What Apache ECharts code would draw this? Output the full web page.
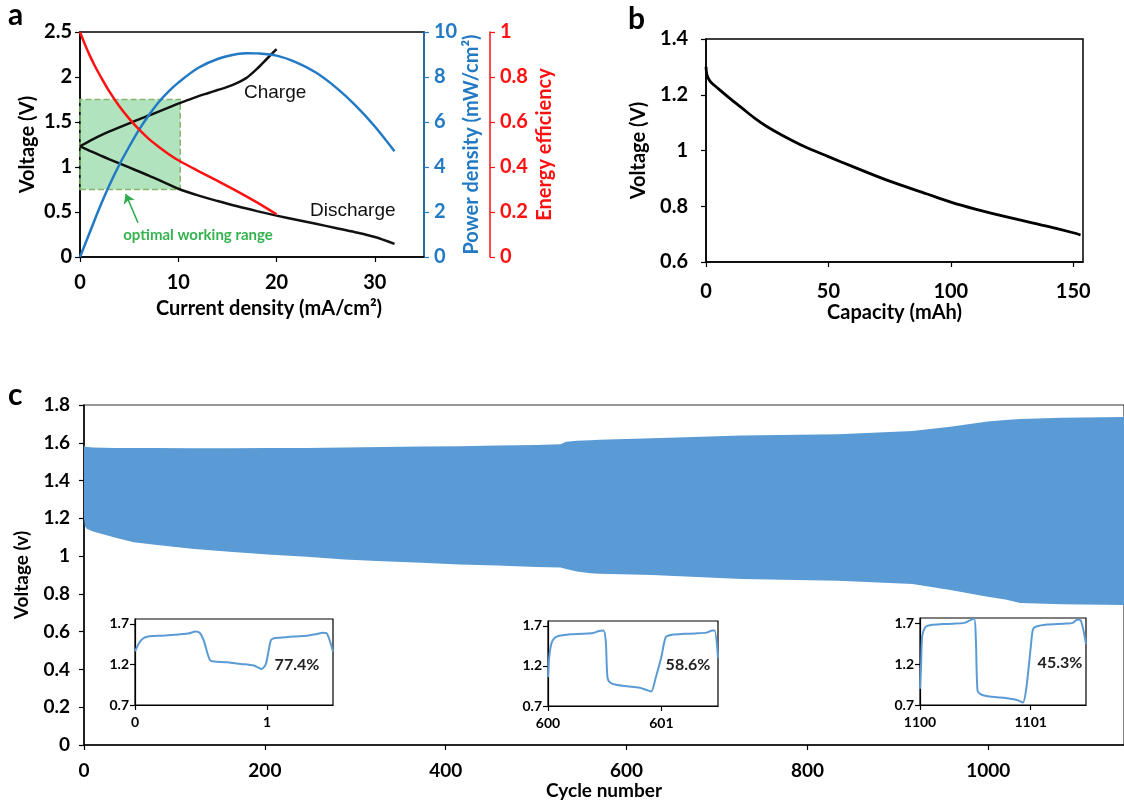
<!DOCTYPE html>
<html>
<head>
<meta charset="utf-8">
<title>Battery performance</title>
<script src="https://cdn.jsdelivr.net/npm/echarts@6.0.0/dist/echarts.min.js"></script>
<style>
  html, body { margin: 0; padding: 0; background: #fff; }
  #main { width: 1124px; height: 802px; }
</style>
</head>
<body>
<div id="main"></div>
<script>
// ---- panel a : polarisation, power and efficiency vs current density
var chargeI = [0, 1, 2, 3, 4, 5, 6, 7, 8, 9, 10, 11, 12, 13, 14, 15, 16, 17, 18, 19, 20];
var chargeV = [1.23, 1.29, 1.345, 1.395, 1.44, 1.485, 1.53, 1.572, 1.615, 1.66, 1.705, 1.745, 1.785, 1.82, 1.855, 1.89, 1.935, 1.995, 2.09, 2.2, 2.31];
var dischI = [0, 1, 2, 3, 4, 5, 6, 7, 8, 9, 10, 12, 14, 16, 18, 20, 22, 24, 26, 28, 30, 32];
var dischV = [1.23, 1.18, 1.132, 1.085, 1.04, 0.995, 0.95, 0.905, 0.857, 0.808, 0.758, 0.685, 0.622, 0.563, 0.51, 0.46, 0.414, 0.369, 0.323, 0.276, 0.222, 0.145];
var powerI = [0, 1, 2, 3, 4, 5, 6, 7, 8, 9, 10, 12, 14, 16, 17, 18, 20, 22, 24, 26, 28, 30, 32];
var powerP = [0, 1.1, 2.2, 3.2, 4.1, 4.9, 5.65, 6.3, 6.88, 7.35, 7.75, 8.4, 8.8, 9.02, 9.06, 9.05, 8.95, 8.65, 8.2, 7.55, 6.75, 5.8, 4.7];
var effI = [0, 0.5, 1, 1.5, 2, 3, 4, 5, 6, 7, 8, 9, 10, 12, 14, 16, 18, 20];
var effE = [1.0, 0.945, 0.895, 0.85, 0.81, 0.735, 0.67, 0.615, 0.567, 0.525, 0.49, 0.458, 0.43, 0.383, 0.338, 0.292, 0.243, 0.19];
var boxI = [0, 10.2];
var boxV = [0.75, 1.75];

// ---- panel b : discharge curve
var capMAh = [0, 0.3, 1, 2, 5, 10, 15, 20, 25, 30, 40, 50, 60, 75, 90, 100, 110, 125, 140, 150, 153];
var capV = [1.3, 1.275, 1.258, 1.245, 1.222, 1.185, 1.15, 1.115, 1.085, 1.06, 1.015, 0.978, 0.942, 0.89, 0.845, 0.815, 0.79, 0.757, 0.727, 0.705, 0.697];

// ---- panel c : cycling envelope
var cycleNum = [0, 1, 3, 10, 35, 55, 76, 119, 161, 203, 246, 288, 330, 373, 415, 457, 500, 527, 533, 545, 560, 570, 628, 727, 834, 916, 958, 999, 1019, 1035, 1081, 1150];
var upperV = [1.585, 1.58, 1.578, 1.575, 1.573, 1.572, 1.572, 1.571, 1.571, 1.572, 1.573, 1.575, 1.578, 1.58, 1.582, 1.585, 1.588, 1.592, 1.606, 1.611, 1.614, 1.616, 1.624, 1.638, 1.645, 1.662, 1.685, 1.712, 1.72, 1.726, 1.733, 1.736];
var lowerV = [1.2, 1.16, 1.145, 1.13, 1.097, 1.074, 1.062, 1.039, 1.023, 1.009, 0.996, 0.982, 0.973, 0.965, 0.956, 0.95, 0.942, 0.94, 0.932, 0.918, 0.909, 0.906, 0.9, 0.879, 0.87, 0.852, 0.82, 0.785, 0.77, 0.752, 0.745, 0.741];

// insets
var in1X = [0, 0.03, 0.06, 0.1, 0.2, 0.3, 0.4, 0.46, 0.49, 0.52, 0.55, 0.57, 0.6, 0.7, 0.8, 0.9, 0.96, 0.99, 1.01, 1.03, 1.06, 1.1, 1.2, 1.3, 1.38, 1.42, 1.45, 1.47, 1.5];
var in1V = [1.36, 1.46, 1.52, 1.545, 1.555, 1.565, 1.58, 1.605, 1.59, 1.5, 1.33, 1.25, 1.235, 1.227, 1.206, 1.186, 1.145, 1.2, 1.35, 1.5, 1.525, 1.53, 1.545, 1.555, 1.575, 1.59, 1.585, 1.52, 1.36];
var in2X = [600, 600.01, 600.03, 600.06, 600.1, 600.2, 600.3, 600.4, 600.45, 600.49, 600.51, 600.525, 600.55, 600.6, 600.7, 600.8, 600.87, 600.91, 600.95, 601.0, 601.04, 601.1, 601.2, 601.3, 601.4, 601.45, 601.47, 601.5];
var in2V = [1.06, 1.3, 1.48, 1.55, 1.575, 1.595, 1.6, 1.61, 1.635, 1.64, 1.5, 1.05, 0.99, 0.965, 0.945, 0.93, 0.9, 0.88, 1.05, 1.31, 1.56, 1.59, 1.6, 1.605, 1.615, 1.64, 1.64, 1.3];
var in3X = [1100, 1100.01, 1100.02, 1100.05, 1100.1, 1100.2, 1100.3, 1100.4, 1100.45, 1100.49, 1100.505, 1100.52, 1100.55, 1100.6, 1100.7, 1100.8, 1100.88, 1100.93, 1100.96, 1101.0, 1101.02, 1101.05, 1101.15, 1101.3, 1101.38, 1101.42, 1101.45, 1101.5];
var in3V = [0.9, 1.2, 1.55, 1.66, 1.685, 1.695, 1.7, 1.71, 1.74, 1.76, 1.5, 0.875, 0.83, 0.81, 0.795, 0.78, 0.76, 0.73, 0.9, 1.4, 1.63, 1.665, 1.69, 1.7, 1.71, 1.75, 1.745, 1.45];
var insetLabels = ['77.4%', '58.6%', '45.3%'];

var FONT = 'Lato, "Open Sans", sans-serif';
var BLUE = '#2279c4';
var RED = '#ff1111';
var FILL = '#5b9bd5';

function zip(a, b) {
    return a.map(function (v, i) { return [v, b[i]]; });
}

function txt(color, size) {
    return { color: color, fontFamily: FONT, fontWeight: 'bold', fontSize: size };
}

function plain(v) { return String(v); }

// common axis builder, excel-like look
function axis(o) {
    var color = o.color || '#000';
    var a = {
        type: 'value',
        gridIndex: o.grid,
        min: o.min, max: o.max, interval: o.interval,
        position: o.position,
        offset: o.offset || 0,
        splitLine: { show: false },
        axisLine: { show: true, onZero: false, lineStyle: { color: color, width: o.lw || 1.5 } },
        axisTick: { show: true, length: o.tick || 5, lineStyle: { color: color, width: 1.2 } },
        axisLabel: Object.assign(txt(color, o.size || 20), { margin: o.margin || 8, formatter: plain }),
        name: o.name || '',
        nameLocation: 'middle',
        nameGap: o.gap || 30,
        nameTextStyle: Object.assign(txt(color, o.nsize || 20), o.nameStyle || {})
    };
    if (o.hideMax) a.axisLabel.showMaxLabel = false;
    return a;
}

var chart = echarts.init(document.getElementById('main'), null, { renderer: 'canvas' });

var insetGrid = { show: true, backgroundColor: '#fff', borderColor: '#000', borderWidth: 1.2 };

var option = {
    animation: false,
    backgroundColor: '#fff',
    grid: [
        { left: 80, top: 32, width: 344, height: 225, show: true, borderColor: '#000', borderWidth: 1.5 },
        { left: 706, top: 39, width: 377, height: 223, show: true, borderColor: '#000', borderWidth: 1.5 },
        { left: 84, top: 405, width: 1042, height: 340, show: true, borderColor: '#333', borderWidth: 1.2 },
        Object.assign({ left: 135, top: 619, width: 198, height: 86 }, insetGrid),
        Object.assign({ left: 548, top: 621, width: 170, height: 85 }, insetGrid),
        Object.assign({ left: 920, top: 618, width: 166, height: 87 }, insetGrid)
    ],
    xAxis: [
        axis({ grid: 0, min: 0, max: 35, interval: 10, margin: 16, name: 'Current density (mA/cm²)', gap: 42,
               nameStyle: { padding: [0, 0, 0, 34] }, hideMax: true }),
        axis({ grid: 1, min: 0, max: 154, interval: 50, margin: 20, name: 'Capacity (mAh)', gap: 40, hideMax: true }),
        axis({ grid: 2, min: 0, max: 1150, interval: 200, margin: 16, size: 19, nsize: 19, name: 'Cycle number', gap: 35, hideMax: true }),
        axis({ grid: 3, min: 0, max: 1.5, interval: 1, margin: 10, size: 14, lw: 1.2, hideMax: true }),
        axis({ grid: 4, min: 600, max: 601.5, interval: 1, margin: 10, size: 14, lw: 1.2, hideMax: true }),
        axis({ grid: 5, min: 1100, max: 1101.5, interval: 1, margin: 10, size: 14, lw: 1.2, hideMax: true })
    ],
    yAxis: [
        axis({ grid: 0, min: 0, max: 2.5, interval: 0.5, margin: 8, name: 'Voltage (V)', gap: 42 }),
        axis({ grid: 0, min: 0, max: 10, interval: 2, position: 'right', color: BLUE, margin: 10, name: 'Power density (mW/cm²)', gap: 35 }),
        axis({ grid: 0, min: 0, max: 1, interval: 0.2, position: 'right', offset: 66, color: RED, margin: 10, name: 'Energy efficiency', gap: 45 }),
        axis({ grid: 1, min: 0.6, max: 1.4, interval: 0.2, margin: 18, name: 'Voltage (V)', gap: 57 }),
        axis({ grid: 2, min: 0, max: 1.8, interval: 0.2, margin: 14, size: 19, nsize: 19, name: 'Voltage (v)', gap: 53 }),
        axis({ grid: 3, min: 0.7, max: 1.76, interval: 0.5, margin: 6, size: 14, lw: 1.2, hideMax: true }),
        axis({ grid: 4, min: 0.7, max: 1.76, interval: 0.5, margin: 6, size: 14, lw: 1.2, hideMax: true }),
        axis({ grid: 5, min: 0.7, max: 1.77, interval: 0.5, margin: 6, size: 14, lw: 1.2, hideMax: true })
    ],
    series: [
        {
            name: 'Charge', type: 'line', xAxisIndex: 0, yAxisIndex: 0, showSymbol: false, smooth: 0.3,
            lineStyle: { color: '#111', width: 2.5 }, data: zip(chargeI, chargeV),
            markArea: {
                silent: true,
                itemStyle: { color: 'rgba(70,190,100,0.42)', borderColor: '#86b46c', borderWidth: 1.5, borderType: 'dashed' },
                data: [[{ coord: [boxI[0], boxV[0]] }, { coord: [boxI[1], boxV[1]] }]]
            }
        },
        {
            name: 'Discharge', type: 'line', xAxisIndex: 0, yAxisIndex: 0, showSymbol: false, smooth: 0.3,
            lineStyle: { color: '#111', width: 2.5 }, data: zip(dischI, dischV),
            markLine: {
                silent: true, symbol: ['none', 'arrow'], symbolSize: 9,
                label: { show: false },
                lineStyle: { color: '#2fad4e', width: 1.6, type: 'solid' },
                data: [[{ coord: [5.9, 0.38] }, { coord: [4.65, 0.7] }]]
            }
        },
        {
            name: 'Power density', type: 'line', xAxisIndex: 0, yAxisIndex: 1, showSymbol: false, smooth: 0.3,
            lineStyle: { color: BLUE, width: 2.5 }, data: zip(powerI, powerP)
        },
        {
            name: 'Energy efficiency', type: 'line', xAxisIndex: 0, yAxisIndex: 2, showSymbol: false, smooth: 0.3,
            lineStyle: { color: RED, width: 2.5 }, data: zip(effI, effE)
        },
        {
            name: 'Discharge capacity', type: 'line', xAxisIndex: 1, yAxisIndex: 3, showSymbol: false, smooth: 0.3,
            lineStyle: { color: '#000', width: 2.8 }, data: zip(capMAh, capV)
        },
        {
            // voltage window swept by every charge/discharge cycle
            name: 'cycling', type: 'custom', xAxisIndex: 2, yAxisIndex: 4,
            data: cycleNum.map(function (c, i) { return [c, upperV[i], lowerV[i]]; }),
            encode: { x: 0, y: [1, 2] },
            renderItem: function (params, api) {
                if (params.dataIndex !== 0) return;
                var pts = [], i;
                for (i = 0; i < cycleNum.length; i++) pts.push(api.coord([cycleNum[i], upperV[i]]));
                for (i = cycleNum.length - 1; i >= 0; i--) pts.push(api.coord([cycleNum[i], lowerV[i]]));
                return { type: 'polygon', shape: { points: pts }, style: { fill: FILL } };
            }
        },
        {
            type: 'line', xAxisIndex: 3, yAxisIndex: 5, showSymbol: false, smooth: 0.25,
            lineStyle: { color: FILL, width: 2 }, data: zip(in1X, in1V)
        },
        {
            type: 'line', xAxisIndex: 4, yAxisIndex: 6, showSymbol: false, smooth: 0.25,
            lineStyle: { color: FILL, width: 2 }, data: zip(in2X, in2V)
        },
        {
            type: 'line', xAxisIndex: 5, yAxisIndex: 7, showSymbol: false, smooth: 0.25,
            lineStyle: { color: FILL, width: 2 }, data: zip(in3X, in3V)
        }
    ],
    graphic: [
        { type: 'text', left: 8, top: 0, style: { text: 'a', font: 'bold 30px ' + FONT, fill: '#000' } },
        { type: 'text', left: 628, top: 4, style: { text: 'b', font: 'bold 30px ' + FONT, fill: '#000' } },
        { type: 'text', left: 8, top: 380, style: { text: 'c', font: 'bold 30px ' + FONT, fill: '#000' } },
        { type: 'text', x: 244, y: 93, style: { text: 'Charge', font: '19px "Liberation Sans", Arial, sans-serif', fill: '#111', verticalAlign: 'middle' } },
        { type: 'text', x: 310, y: 211, style: { text: 'Discharge', font: '19px "Liberation Sans", Arial, sans-serif', fill: '#111', verticalAlign: 'middle' } },
        { type: 'text', x: 198, y: 235, style: { text: 'optimal working range', font: 'bold 15px ' + FONT, fill: '#35b34f', align: 'center', verticalAlign: 'middle' } },
        { type: 'text', x: 297, y: 665, style: { text: insetLabels[0], font: 'bold 16px ' + FONT, fill: '#222', align: 'center', verticalAlign: 'middle' } },
        { type: 'text', x: 688, y: 665, style: { text: insetLabels[1], font: 'bold 16px ' + FONT, fill: '#222', align: 'center', verticalAlign: 'middle' } },
        { type: 'text', x: 1060, y: 663, style: { text: insetLabels[2], font: 'bold 16px ' + FONT, fill: '#222', align: 'center', verticalAlign: 'middle' } }
    ]
};

chart.setOption(option);
</script>
</body>
</html>
